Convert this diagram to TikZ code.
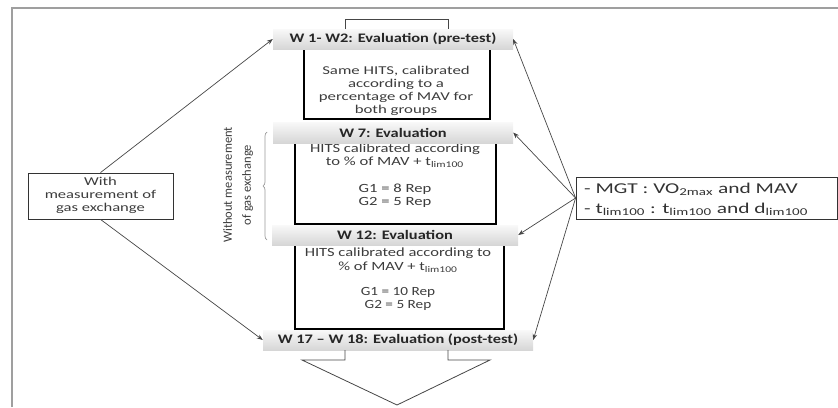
\documentclass[tikz,border=0pt]{standalone}
\usepackage{fontspec}
\setmainfont{Carlito}
\usetikzlibrary{decorations.pathreplacing,arrows.meta}
\definecolor{txtgray}{RGB}{60,60,60}
\definecolor{lngray}{RGB}{70,70,70}
\newcommand{\wide}[2]{\scalebox{#1}[1]{\begin{tabular}{@{}c@{}}#2\end{tabular}}}
\newcommand{\wideL}[2]{\scalebox{#1}[1]{\begin{tabular}{@{}l@{}}#2\end{tabular}}}
\tikzset{
 bar/.style={shade, top color=gray!5, bottom color=gray!32, minimum height=20pt, inner sep=0pt, font=\bfseries\fontsize{13}{13}\selectfont, text=black!85},
 bodybox/.style={draw=black, line width=1.6pt, inner sep=0pt},
 body/.style={text=txtgray, align=center, inner sep=0pt},
 conn/.style={draw=lngray, line width=0.7pt, -{Stealth[length=6pt,width=4.5pt]}},
 thinline/.style={draw=lngray, line width=0.8pt},
}
\begin{document}
\begin{tikzpicture}[x=1pt,y=-1pt]
\useasboundingbox (0,0) rectangle (838,407);
% frame
\draw[gray!75, line width=1.5pt] (12,407) -- (12,8) -- (838,8);
% body boxes
\node[bodybox, minimum width=186pt, minimum height=70pt] (box1) at (397,84) {};
\node[bodybox, minimum width=201pt, minimum height=81pt] (box2) at (395.5,183.5) {};
\node[bodybox, minimum width=209pt, minimum height=84pt] (box3) at (399.5,287) {};
% body texts
\node[body, font=\fontsize{12}{13}\selectfont] (t1) at (396,91.5) {\wide{1.4}{Same HITS, calibrated\\according to a\\percentage of MAV for\\both groups}};
\node[body, font=\fontsize{12.5}{13.5}\selectfont] (t2a) at (395,156.5) {\wide{1.33}{HITS calibrated according\\to \% of MAV + t\textsubscript{lim100}}};
\node[body, font=\fontsize{12.5}{13}\selectfont] (t2b) at (395,196) {\wide{1.33}{G1 = 8 Rep\\G2 = 5 Rep}};
\node[body, font=\fontsize{12.5}{13.5}\selectfont] (t3a) at (398,261) {\wide{1.32}{HITS calibrated according to\\\% of MAV + t\textsubscript{lim100}}};
\node[body, font=\fontsize{12.5}{13}\selectfont] (t3b) at (398,299.5) {\wide{1.22}{G1 = 10 Rep\\G2 = 5 Rep}};
% header bars
\node[bar, minimum width=240pt] (bar1) at (393,39) {\scalebox{1.26}[1]{W 1- W2: Evaluation (pre-test)}};
\node[bar, minimum width=240pt, minimum height=21pt] (bar2) at (393,132.5) {\scalebox{1.26}[1]{W 7: Evaluation}};
\node[bar, minimum width=246pt] (bar3) at (395,235) {\scalebox{1.26}[1]{W 12: Evaluation}};
\node[bar, minimum width=270pt] (bar4) at (398,340) {\scalebox{1.26}[1]{W 17 -- W 18: Evaluation (post-test)}};
% top bracket
\draw[thinline] (345,29) -- (345,19) -- (448,19) -- (448,29);
% bottom block arrow
\draw[thinline] (345,350) -- (345,360) -- (302,360) -- (397,405) -- (490,360) -- (448,360) -- (448,350);
% left box
\node[draw=black!80, line width=0.8pt, minimum width=145pt, minimum height=46pt, inner sep=0pt, align=center, font=\fontsize{12}{13}\selectfont, text=txtgray] (lbox) at (100.5,196) {\wide{1.38}{With\\measurement of\\gas exchange}};
% right box
\node[draw=black!80, line width=0.8pt, minimum width=261pt, minimum height=42pt, inner sep=0pt] (rbox) at (706.5,198) {};
\node[anchor=west, align=left, inner sep=0pt, font=\fontsize{15}{20}\selectfont, text=black!80] (rtext) at (584,199) {\wideL{1.43}{- MGT : VO\textsubscript{2max} and MAV\\- t\textsubscript{lim100} : t\textsubscript{lim100} and d\textsubscript{lim100}}};
% vertical label and brace
\node[rotate=90, align=center, inner sep=0pt, font=\fontsize{12.5}{19}\selectfont, text=txtgray] (vlab) at (238,185) {Without measurement\\of gas exchange};
\draw[gray!80, line width=0.7pt, decorate, decoration={brace, amplitude=4pt}] (267,240) -- (267,132);
% connectors
\draw[conn] (lbox.north) -- (bar1.west);
\draw[conn] (lbox.south) -- (bar4.west);
\draw[conn] (rbox.west) -- (bar1.east);
\draw[conn] (rbox.west) -- (bar2.east);
\draw[conn] (rbox.west) -- (bar3.east);
\draw[conn] (rbox.west) -- (bar4.east);
\end{tikzpicture}
\end{document}
